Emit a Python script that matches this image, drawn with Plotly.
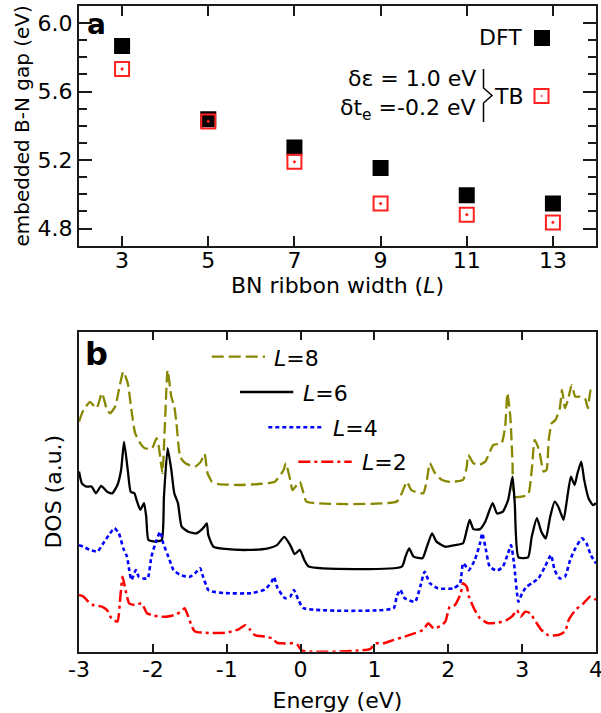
import plotly.graph_objects as go

# ---------------- Panel a data ----------------
widths = [3, 5, 7, 9, 11, 13]
gap_dft = [5.867, 5.438, 5.274, 5.154, 4.995, 4.946]
gap_tb = [5.732, 5.426, 5.190, 4.946, 4.881, 4.836]
xa_ticks = [3, 5, 7, 9, 11, 13]

# ---------------- Panel b data (DOS, a.u., curves offset) ----------------
e_l8 = [-3.00, -2.94, -2.85, -2.81, -2.76, -2.69, -2.62, -2.58, -2.51, -2.46, -2.40, -2.34, -2.29, -2.24,
        -2.17, -2.11, -2.01, -1.95, -1.92, -1.87, -1.84, -1.80, -1.75, -1.71, -1.68, -1.63, -1.56, -1.43,
        -1.35, -1.30, -1.26, -1.20, -1.11, -0.84, -0.57, -0.35, -0.23, -0.20, -0.14, -0.11, -0.05, -0.01,
        0.04, 0.08, 1.30, 1.37, 1.44, 1.50, 1.66, 1.71, 1.75, 1.82, 1.91, 2.02, 2.20, 2.25, 2.27, 2.34,
        2.41, 2.50, 2.61, 2.72, 2.77, 2.80, 2.84, 2.87, 2.89, 2.97, 3.08, 3.13, 3.17, 3.23, 3.29, 3.33,
        3.36, 3.40, 3.45, 3.51, 3.54, 3.58, 3.62, 3.67, 3.72, 3.78, 3.85, 3.89, 3.93, 4.00]
d_l8 = [71.9, 75.5, 78.1, 77.1, 76.1, 80.8, 75.5, 74.5, 76.6, 81.8, 87.5, 83.9, 75.5, 68.3,
        65.1, 63.6, 63.6, 66.7, 64.1, 55.8, 69.3, 88.0, 79.7, 76.6, 71.4, 60.9, 58.9, 57.8,
        59.4, 61.8, 55.8, 53.1, 52.4, 52.1, 52.4, 53.1, 56.8, 58.9, 53.7, 50.5, 52.1, 53.1,
        49.5, 46.9, 46.9, 49.5, 53.1, 50.5, 49.5, 53.7, 58.9, 55.8, 53.7, 53.1, 53.7, 57.8, 61.5, 58.9,
        58.3, 59.4, 64.6, 65.1, 70.3, 80.8, 73.4, 58.9, 48.4, 48.4, 49.0, 56.8, 66.2, 63.0, 56.3, 56.8,
        66.2, 71.4, 72.4, 76.1, 81.8, 76.1, 78.7, 83.3, 79.7, 79.7, 79.2, 76.1, 81.8, 82.3]

e_l6 = [-3.00, -2.96, -2.90, -2.83, -2.77, -2.70, -2.62, -2.55, -2.48, -2.43, -2.39, -2.34, -2.30, -2.25,
        -2.22, -2.17, -2.12, -2.09, -2.06, -1.97, -1.88, -1.85, -1.80, -1.75, -1.71, -1.66, -1.61, -1.52,
        -1.41, -1.32, -1.27, -1.25, -1.18, -1.02, -0.71, -0.44, -0.32, -0.22, -0.14, -0.08, -0.01, 0.05,
        0.11, 1.37, 1.42, 1.47, 1.53, 1.65, 1.71, 1.78, 1.84, 1.96, 2.09, 2.20, 2.25, 2.29, 2.34, 2.43,
        2.50, 2.60, 2.66, 2.74, 2.81, 2.87, 2.90, 2.95, 3.08, 3.13, 3.20, 3.26, 3.32, 3.38, 3.44, 3.49,
        3.56, 3.60, 3.66, 3.71, 3.75, 3.80, 3.84, 3.90, 3.96, 4.00]
d_l6 = [56.3, 52.6, 51.6, 51.6, 49.5, 51.8, 50.0, 49.5, 52.1, 56.8, 65.6, 56.8, 50.0, 49.5,
        47.4, 44.3, 46.4, 42.2, 34.9, 34.4, 34.9, 48.4, 63.6, 56.8, 49.5, 46.4, 39.1, 37.5,
        37.0, 38.6, 40.1, 36.5, 32.8, 32.1, 31.8, 32.3, 33.3, 35.9, 33.3, 30.5, 31.8, 28.7,
        26.6, 26.6, 29.7, 32.3, 29.7, 29.2, 32.8, 37.0, 34.4, 32.8, 33.3, 33.9, 38.0, 41.2, 38.3, 38.3,
        40.6, 46.4, 43.2, 43.8, 47.4, 54.7, 46.4, 29.5, 29.5, 35.9, 41.7, 37.5, 35.4, 42.2, 46.9, 45.3,
        41.2, 46.4, 54.7, 52.1, 55.8, 59.4, 53.7, 47.9, 45.8, 46.4]

e_l4 = [-3.00, -2.94, -2.85, -2.75, -2.67, -2.58, -2.52, -2.46, -2.40, -2.35, -2.32, -2.29, -2.23, -2.19,
        -2.13, -2.07, -2.02, -1.95, -1.90, -1.86, -1.79, -1.72, -1.63, -1.50, -1.42, -1.36, -1.32, -1.25,
        -1.20, -1.02, -0.66, -0.48, -0.39, -0.36, -0.31, -0.21, -0.14, -0.09, -0.03, 0.04, 1.26, 1.30,
        1.35, 1.41, 1.55, 1.62, 1.68, 1.75, 1.86, 2.07, 2.16, 2.20, 2.26, 2.28, 2.36, 2.43, 2.46, 2.51,
        2.56, 2.66, 2.74, 2.81, 2.85, 2.89, 2.95, 3.00, 3.06, 3.13, 3.22, 3.31, 3.39, 3.44, 3.51, 3.58,
        3.65, 3.72, 3.81, 3.87, 3.93, 4.00]
d_l4 = [33.3, 32.8, 31.8, 31.3, 33.9, 37.0, 38.6, 37.0, 32.3, 29.7, 25.5, 22.4, 25.5, 23.4,
        22.9, 22.9, 29.7, 34.9, 37.5, 33.9, 29.7, 25.5, 24.0, 23.4, 24.7, 26.1, 23.4, 19.3,
        18.8, 18.3, 18.3, 19.5, 21.9, 23.3, 19.8, 16.7, 17.2, 19.3, 16.2, 13.6, 13.6, 17.2,
        19.3, 16.7, 15.6, 20.3, 25.0, 21.4, 19.8, 19.8, 21.4, 27.6, 26.1, 25.5, 28.7, 33.9, 37.0, 31.8,
        26.6, 25.3, 26.6, 30.8, 33.3, 27.6, 15.6, 18.3, 20.3, 21.4, 22.9, 26.6, 30.2, 25.5, 22.9, 23.4,
        28.7, 32.3, 35.4, 33.9, 30.2, 27.6]

e_l2 = [-3.00, -2.94, -2.87, -2.81, -2.69, -2.62, -2.56, -2.48, -2.44, -2.41, -2.37, -2.32, -2.24, -2.15,
        -2.08, -1.99, -1.84, -1.70, -1.62, -1.57, -1.52, -1.47, -1.43, -1.29, -1.02, -0.84, -0.75, -0.68,
        -0.62, -0.48, -0.39, -0.32, -0.23, -0.10, -0.04, 0.02, 0.94, 1.01, 1.12, 1.26, 1.41, 1.55,
        1.66, 1.73, 1.80, 1.89, 1.96, 2.02, 2.09, 2.17, 2.20, 2.25, 2.28, 2.36, 2.43, 2.54, 2.68, 2.79,
        2.87, 2.93, 2.98, 3.04, 3.11, 3.17, 3.26, 3.35, 3.49, 3.58, 3.63, 3.72, 3.83, 3.92, 4.00]
d_l2 = [17.7, 17.2, 15.6, 14.6, 14.1, 13.0, 10.4, 9.4, 17.2, 23.4, 19.3, 15.1, 14.6, 15.1,
        12.0, 11.3, 10.9, 11.5, 12.5, 13.6, 10.9, 7.8, 6.3, 5.9, 5.9, 7.0, 8.3, 6.8,
        5.2, 4.7, 4.2, 2.8, 2.6, 2.6, 2.1, 0.3, 0.8, 2.6, 2.6, 3.7, 4.7, 5.8,
        6.8, 8.9, 7.3, 8.0, 9.4, 14.1, 14.6, 18.3, 21.4, 20.3, 17.2, 13.0, 10.4, 8.9, 9.1, 9.9,
        11.2, 13.0, 10.9, 12.5, 12.0, 9.9, 6.8, 5.2, 5.2, 6.3, 9.9, 13.0, 15.1, 17.2, 16.2]

xb_ticks = [-3, -2, -1, 0, 1, 2, 3, 4]
xb_ticktext = ["-3", "-2", "-1", "0", "1", "2", "3", "4"]

series_names = ["<i>L</i>=8", "<i>L</i>=6", "<i>L</i>=4", "<i>L</i>=2"]
series_colors = ["#878700", "#000000", "#0000ff", "#ff0000"]
series_dash = ["12px,5px", "solid", "4px,3px", "12px,4px,3px,4px"]
series_width = [2.3, 2.3, 2.6, 2.5]

FONT = "DejaVu Sans"
W, H = 601, 713

fig = go.Figure()

# Panel a
fig.add_trace(go.Scatter(x=widths, y=gap_dft, mode="markers", xaxis="x", yaxis="y",
                         marker=dict(symbol="square", size=16, color="black", line=dict(width=0)),
                         name="DFT", showlegend=False))
fig.add_trace(go.Scatter(x=widths, y=gap_tb, mode="markers", xaxis="x", yaxis="y",
                         marker=dict(symbol="square-open-dot", size=14, color="#ff2020",
                                     line=dict(width=2, color="#ff2020")),
                         name="TB", showlegend=False))

# Panel b
for e, d, nm, c, ds, lw in zip([e_l8, e_l6, e_l4, e_l2], [d_l8, d_l6, d_l4, d_l2],
                               series_names, series_colors, series_dash, series_width):
    fig.add_trace(go.Scatter(x=e, y=d, mode="lines", xaxis="x2", yaxis="y2",
                             line=dict(color=c, dash=ds, width=lw, shape="spline", smoothing=0.5),
                             name=nm, showlegend=False))


def px(x):
    return x / W


def py(y):
    return 1 - y / H


axis_common = dict(showline=True, linecolor="#1a1a1a", linewidth=2, mirror="ticks",
                   showgrid=False, zeroline=False, ticks="inside", tickcolor="#1a1a1a",
                   automargin=False, ticklabeloverflow="allow",
                   tickfont=dict(family=FONT, size=22, color="black"))

fig.update_layout(
    width=W, height=H, margin=dict(l=0, r=0, t=0, b=0, autoexpand=False),
    paper_bgcolor="white", plot_bgcolor="white",
    font=dict(family=FONT, color="black"),
    xaxis=dict(domain=[px(79), px(596)], anchor="y", range=[2, 14],
               tickvals=xa_ticks, ticklen=10, tickwidth=1.5, ticklabelstandoff=-6,
               title=dict(text="BN ribbon width (<i>L</i>)", font=dict(size=22), standoff=0),
               **axis_common),
    yaxis=dict(domain=[py(245.7), py(6)], anchor="x", range=[4.7, 6.1],
               tick0=4.8, dtick=0.4, tickformat=".1f", ticklen=13, tickwidth=1.5,
               minor=dict(dtick=0.1, tick0=4.7, ticklen=8, ticks="inside", tickcolor="#1a1a1a", tickwidth=1.5),
               title=dict(text="embedded B-N gap (eV)", font=dict(size=20), standoff=3),
               **axis_common),
    xaxis2=dict(domain=[px(79), px(596)], anchor="y2", range=[-3, 4],
                tickvals=xb_ticks, ticktext=xb_ticktext, ticklen=8, tickwidth=1.5, ticklabelstandoff=-3,
                title=dict(text="Energy (eV)", font=dict(size=22), standoff=14),
                **axis_common),
    yaxis2=dict(domain=[py(651.7), py(331.7)], anchor="x2", range=[0, 100],
                showticklabels=False, showline=True, linecolor="#1a1a1a", linewidth=2,
                mirror=True, showgrid=False, zeroline=False, ticks="", automargin=False,
                title=dict(text="DOS (a.u.)", font=dict(size=22), standoff=9)),
)

ann = []
# panel labels
ann.append(dict(text="<b>a</b>", x=px(96), y=py(24), xref="paper", yref="paper",
                showarrow=False, font=dict(size=28, family=FONT), xanchor="center", yanchor="middle"))
ann.append(dict(text="<b>b</b>", x=px(96), y=py(354), xref="paper", yref="paper",
                showarrow=False, font=dict(size=32, family=FONT), xanchor="center", yanchor="middle"))
# panel a legend
ann.append(dict(text="DFT", x=px(524), y=py(38), xref="paper", yref="paper", showarrow=False,
                font=dict(size=22), xanchor="right", yanchor="middle"))
ann.append(dict(text="TB", x=px(526), y=py(96), xref="paper", yref="paper", showarrow=False,
                font=dict(size=22), xanchor="right", yanchor="middle"))
ann.append(dict(text="δε = 1.0 eV", x=px(478), y=py(79), xref="paper", yref="paper", showarrow=False,
                font=dict(size=22), xanchor="right", yanchor="middle"))
ann.append(dict(text="δt<sub>e</sub> =-0.2 eV", x=px(478), y=py(109), xref="paper", yref="paper",
                showarrow=False, font=dict(size=22), xanchor="right", yanchor="middle"))
# panel b legend
leg_b = [(272, 358), (301, 393), (331, 428), (360, 463)]
for (lx, ly), nm in zip(leg_b, series_names):
    ann.append(dict(text=nm, x=px(lx), y=py(ly), xref="paper", yref="paper", showarrow=False,
                    font=dict(size=22), xanchor="left", yanchor="middle"))
fig.update_layout(annotations=ann)

shapes = []
# legend keys panel a
shapes.append(dict(type="rect", xref="paper", yref="paper", x0=px(534), x1=px(550), y0=py(46), y1=py(30),
                   fillcolor="black", line=dict(width=0)))
shapes.append(dict(type="rect", xref="paper", yref="paper", x0=px(534.5), x1=px(548.5), y0=py(103), y1=py(89),
                   fillcolor="rgba(0,0,0,0)", line=dict(width=2, color="#ff2020")))
shapes.append(dict(type="rect", xref="paper", yref="paper", x0=px(540.7), x1=px(542.3), y0=py(96.8), y1=py(95.2),
                   fillcolor="#ff2020", line=dict(width=0)))
# brace
bx, bxm = px(483.5), px(492)
shapes.append(dict(type="path", xref="paper", yref="paper",
                   path=f"M {bx},{py(69)} L {bx},{py(88)} L {bxm},{py(95.5)} L {bx},{py(103)} L {bx},{py(122)}",
                   line=dict(color="black", width=1.5)))
# legend line samples panel b
leg_lines = [(211.7, 265, 356.7), (240, 293.3, 392), (268.3, 323.3, 427.3), (298.3, 351.7, 461.7)]
for (x0, x1, yy), c, ds, lw in zip(leg_lines, series_colors, series_dash, series_width):
    shapes.append(dict(type="line", xref="paper", yref="paper", x0=px(x0), x1=px(x1), y0=py(yy), y1=py(yy),
                       line=dict(color=c, dash=ds, width=lw)))
fig.update_layout(shapes=shapes)

fig.write_html("out.html")
